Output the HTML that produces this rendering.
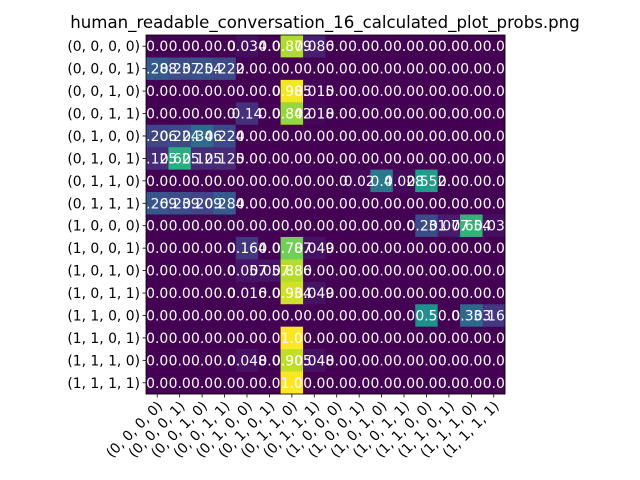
<!DOCTYPE html>
<html><head><meta charset="utf-8"><style>
body{margin:0;background:#fff;}
svg{display:block;font-family:"DejaVu Sans","Liberation Sans",sans-serif;}
</style></head><body>
<svg id="chart" width="640" height="480" xmlns="http://www.w3.org/2000/svg">
<rect width="640" height="480" fill="#fff"/>
<text x="325" y="28" font-size="16.6" text-anchor="middle">human_readable_conversation_16_calculated_plot_probs.png</text>
<g id="cells"></g>
<g id="labels"></g>
<g id="yaxis"></g>
<g id="xaxis"></g>
<rect x="146" y="35" width="359" height="359" fill="none" stroke="#000" stroke-width="0.8"/>
</svg>
<script>
const categories = ["(0, 0, 0, 0)","(0, 0, 0, 1)","(0, 0, 1, 0)","(0, 0, 1, 1)","(0, 1, 0, 0)","(0, 1, 0, 1)","(0, 1, 1, 0)","(0, 1, 1, 1)","(1, 0, 0, 0)","(1, 0, 0, 1)","(1, 0, 1, 0)","(1, 0, 1, 1)","(1, 1, 0, 0)","(1, 1, 0, 1)","(1, 1, 1, 0)","(1, 1, 1, 1)"];
const row0 = [0,0,0,0,0.034,0,0.879,0.086,0,0,0,0,0,0,0,0];
const row1 = [0.288,0.237,0.254,0.222,0,0,0,0,0,0,0,0,0,0,0,0];
const row2 = [0,0,0,0,0,0,0.985,0.015,0,0,0,0,0,0,0,0];
const row3 = [0,0,0,0,0.14,0,0.842,0.018,0,0,0,0,0,0,0,0];
const row4 = [0.206,0.224,0.346,0.224,0,0,0,0,0,0,0,0,0,0,0,0];
const row5 = [0.125,0.625,0.125,0.125,0,0,0,0,0,0,0,0,0,0,0,0];
const row6 = [0,0,0,0,0,0,0,0,0,0.02,0.4,0.028,0.552,0,0,0];
const row7 = [0.269,0.239,0.209,0.284,0,0,0,0,0,0,0,0,0,0,0,0];
const row8 = [0,0,0,0,0,0,0,0,0,0,0,0,0.231,0.077,0.654,0.038];
const row9 = [0,0,0,0,0.164,0,0.787,0.049,0,0,0,0,0,0,0,0];
const row10 = [0,0,0,0,0.057,0.057,0.886,0,0,0,0,0,0,0,0,0];
const row11 = [0,0,0,0,0.016,0,0.934,0.049,0,0,0,0,0,0,0,0];
const row12 = [0,0,0,0,0,0,0,0,0,0,0,0,0.5,0,0.333,0.167];
const row13 = [0,0,0,0,0,0,1,0,0,0,0,0,0,0,0,0];
const row14 = [0,0,0,0,0.048,0,0.905,0.048,0,0,0,0,0,0,0,0];
const row15 = [0,0,0,0,0,0,1,0,0,0,0,0,0,0,0,0];
const rows = [row0,row1,row2,row3,row4,row5,row6,row7,row8,row9,row10,row11,row12,row13,row14,row15];

const NS="http://www.w3.org/2000/svg";
const X0=146,Y0=35,W=359,H=359;
const cw=W/categories.length, ch=H/rows.length;
function xPos(i){return X0+i*cw;}
function yPos(j){return Y0+j*ch;}
const vir=[[68,1,84],[72,35,116],[64,67,135],[52,94,141],[41,120,142],[32,144,140],[34,167,132],[68,190,112],[121,209,81],[189,222,38],[253,231,37]];
function color(v){v=Math.max(0,Math.min(1,v));const t=v*10,i=Math.min(9,Math.floor(t)),f=t-i;const a=vir[i],b=vir[i+1];return `rgb(${a.map((c,k)=>Math.round(c+(b[k]-c)*f)).join(',')})`;}
function fmt(v){let s=String(Math.round(v*1000)/1000);if(!s.includes('.'))s+='.0';return s;}
const cells=document.getElementById('cells'),labels=document.getElementById('labels');
rows.forEach((r,j)=>r.forEach((v,i)=>{
 const rc=document.createElementNS(NS,'rect');
 rc.setAttribute('x',xPos(i));rc.setAttribute('y',yPos(j));rc.setAttribute('width',cw+0.3);rc.setAttribute('height',ch+0.3);rc.setAttribute('fill',color(v));
 
 
 cells.appendChild(rc);
 const t=document.createElementNS(NS,'text');
 t.setAttribute('x',xPos(i)+cw/2);t.setAttribute('y',yPos(j)+ch/2+5);t.setAttribute('font-size','13.9');t.setAttribute('text-anchor','middle');t.setAttribute('fill','#fff');
 t.textContent=fmt(v);
 
 
 labels.appendChild(t);
}));
const ya=document.getElementById('yaxis'),xa=document.getElementById('xaxis');
categories.forEach((c,j)=>{
 const y=yPos(j)+ch/2;
 const tk=document.createElementNS(NS,'line');
 tk.setAttribute('x1',X0-3.5);tk.setAttribute('x2',X0);tk.setAttribute('y1',y);tk.setAttribute('y2',y);tk.setAttribute('stroke','#000');tk.setAttribute('stroke-width','0.8');
 
 
 ya.appendChild(tk);
 const t=document.createElementNS(NS,'text');
 t.setAttribute('x',X0-6);t.setAttribute('y',y+5);t.setAttribute('font-size','13.9');t.setAttribute('text-anchor','end');
 t.textContent=c;
 
 
 ya.appendChild(t);
});
categories.forEach((c,i)=>{
 const x=xPos(i)+cw/2;
 const tk=document.createElementNS(NS,'line');
 tk.setAttribute('x1',x);tk.setAttribute('x2',x);tk.setAttribute('y1',Y0+H);tk.setAttribute('y2',Y0+H+3.5);tk.setAttribute('stroke','#000');tk.setAttribute('stroke-width','0.8');
 
 
 xa.appendChild(tk);
 const t=document.createElementNS(NS,'text');
 const ax=x+6,ay=Y0+H+13;
 t.setAttribute('x',ax);t.setAttribute('y',ay);t.setAttribute('font-size','13.9');t.setAttribute('text-anchor','end');
 t.setAttribute('transform',`rotate(-45 ${ax} ${ay})`);
 t.textContent=c;
 
 
 xa.appendChild(t);
});
</script>
</body></html>
